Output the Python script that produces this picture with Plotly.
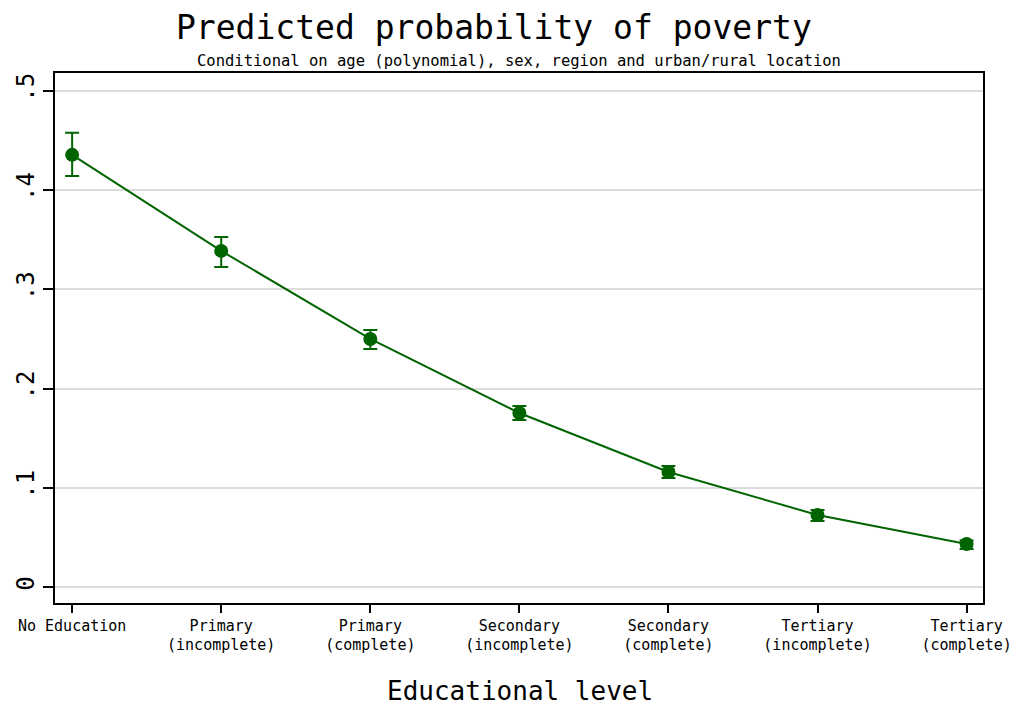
import plotly.graph_objects as go

# Predicted probabilities with 95% confidence bounds by education level
categories = [
    "No Education",
    "Primary<br>(incomplete)",
    "Primary<br>(complete)",
    "Secondary<br>(incomplete)",
    "Secondary<br>(complete)",
    "Tertiary<br>(incomplete)",
    "Tertiary<br>(complete)",
]
predicted = [0.4355, 0.3387, 0.2500, 0.1754, 0.1159, 0.0726, 0.0433]
upper_ci = [0.4577, 0.3528, 0.2590, 0.1825, 0.1220, 0.0776, 0.0470]
lower_ci = [0.4143, 0.3226, 0.2399, 0.1683, 0.1099, 0.0665, 0.0383]

y_ticks = [0, 0.1, 0.2, 0.3, 0.4, 0.5]
y_tick_labels = ["0", ".1", ".2", ".3", ".4", ".5"]

green = "#006400"
mono = "DejaVu Sans Mono"

x_pos = list(range(len(categories)))
err_plus = [u - p for u, p in zip(upper_ci, predicted)]
err_minus = [p - l for p, l in zip(predicted, lower_ci)]

fig = go.Figure()
fig.add_trace(
    go.Scatter(
        x=x_pos,
        y=predicted,
        mode="lines+markers",
        line=dict(color=green, width=2),
        marker=dict(color=green, size=14),
        error_y=dict(
            type="data",
            symmetric=False,
            array=err_plus,
            arrayminus=err_minus,
            color=green,
            thickness=2,
            width=7,
        ),
        showlegend=False,
    )
)

plot_w = 1016 - 55 - 33
plot_h = 706 - 73 - 103

fig.update_layout(
    width=1016,
    height=706,
    margin=dict(l=55, r=33, t=73, b=103, autoexpand=False),
    paper_bgcolor="white",
    plot_bgcolor="white",
    font=dict(family=mono, color="black"),
    annotations=[
        dict(
            text="Predicted probability of poverty",
            xref="paper", yref="paper",
            x=(494 - 55) / plot_w, y=1.0 + (73 - 27) / plot_h,
            xanchor="center", yanchor="middle",
            showarrow=False,
            font=dict(family=mono, size=33, color="black"),
        ),
        dict(
            text="Conditional on age (polynomial), sex, region and urban/rural location",
            xref="paper", yref="paper",
            x=0.5, y=1.0 + (73 - 61) / plot_h,
            xanchor="center", yanchor="middle",
            showarrow=False,
            font=dict(family=mono, size=15.5, color="black"),
        ),
        dict(
            text="Educational level",
            xref="paper", yref="paper",
            x=(520 - 55) / plot_w, y=-(691 - 603) / plot_h,
            xanchor="center", yanchor="middle",
            showarrow=False,
            font=dict(family=mono, size=26, color="black"),
        ),
    ],
)

fig.update_xaxes(
    range=[-0.115, 6.11],
    tickmode="array",
    tickvals=x_pos,
    ticktext=categories,
    ticks="outside",
    ticklen=8,
    tickwidth=1.5,
    tickcolor="black",
    tickfont=dict(family=mono, size=15, color="black"),
    showgrid=False,
    zeroline=False,
    showline=True,
    linecolor="black",
    linewidth=1.5,
    mirror=True,
    automargin=False,
)

fig.update_yaxes(
    range=[-0.0161, 0.518],
    tickmode="array",
    tickvals=y_ticks,
    ticktext=y_tick_labels,
    tickangle=-90,
    ticks="outside",
    ticklen=10,
    tickwidth=1.5,
    tickcolor="black",
    tickfont=dict(family=mono, size=24, color="black"),
    showgrid=True,
    gridcolor="#dcdcdc",
    gridwidth=2,
    zeroline=False,
    showline=True,
    linecolor="black",
    linewidth=1.5,
    mirror=True,
    automargin=False,
)

fig.write_html("out.html")
